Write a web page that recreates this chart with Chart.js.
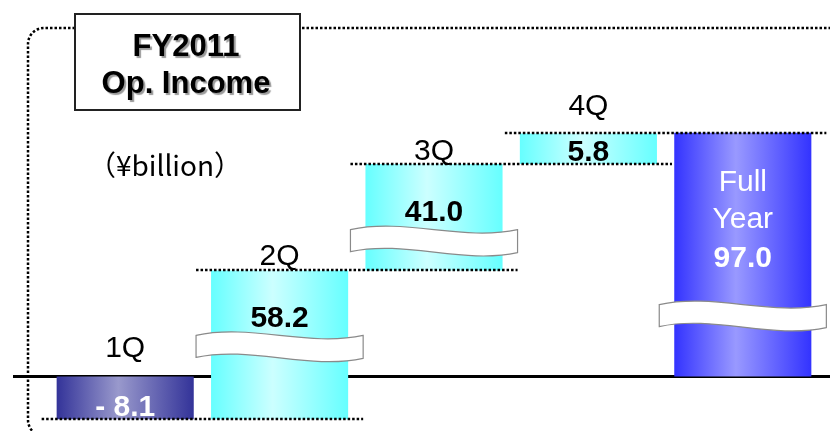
<!DOCTYPE html>
<html>
<head>
<meta charset="utf-8">
<script src="https://cdn.jsdelivr.net/npm/chart.js@4/dist/chart.umd.min.js"></script>
<style>
  body { margin: 0; background: #fff; }
  #wrap { width: 830px; height: 431px; }
</style>
</head>
<body>
<div id="wrap"><canvas id="opChart" width="830" height="431"></canvas></div>
<script>
// Operating income by quarter, yen billion
const quarters = ["1Q", "2Q", "3Q", "4Q"];
const quarterIncome = [-8.1, 58.2, 41.0, 5.8];
const fullYearIncome = 97.0;
const fullYearLines = ["Full", "Year"];

const FONT = '"Liberation Sans", Arial, sans-serif';

// waterfall: each quarter floats on top of the running total
let running = 0;
const ranges = quarterIncome.map(function (v) {
  const r = [running, running + v];
  running += v;
  return r;
});
ranges.push([0, fullYearIncome]);
const labels = [...quarters, "Full Year"];

// linear scale with squeezed value ranges (broken axis look)
class BrokenScale extends Chart.LinearScale {
  toVisual(v) {
    let u = v;
    for (const s of this.options.squeeze || []) {
      if (v > s.from) u -= (Math.min(v, s.to) - s.from) * (1 - s.factor);
    }
    return u;
  }
  getPixelForValue(value) {
    const lo = this.toVisual(this.min);
    const hi = this.toVisual(this.max);
    return this.getPixelForDecimal((this.toVisual(value) - lo) / (hi - lo));
  }
  getValueForPixel(pixel) {
    const lo = this.toVisual(this.min);
    const hi = this.toVisual(this.max);
    const u = lo + this.getDecimalForPixel(pixel) * (hi - lo);
    let a = this.min, b = this.max;
    for (let i = 0; i < 50; i++) {
      const m = (a + b) / 2;
      if (this.toVisual(m) < u) a = m; else b = m;
    }
    return (a + b) / 2;
  }
}
BrokenScale.id = "broken";
BrokenScale.defaults = Chart.LinearScale.defaults;
Chart.register(BrokenScale);

const shades = {
  loss: ["#333399", "#9999cc"],
  gain: ["#66ffff", "#ccffff"],
  total: ["#3333ff", "#9999ff"],
};
const BAR_PCT = 0.888;

function barKind(i) {
  if (i === labels.length - 1) return "total";
  return quarterIncome[i] < 0 ? "loss" : "gain";
}

function barFill(ctx) {
  const chart = ctx.chart;
  const xs = chart.scales.x;
  if (ctx.dataIndex === undefined) return "#66ffff";
  const [edge, mid] = shades[barKind(ctx.dataIndex)];
  if (!xs) return edge;
  const cx = xs.getPixelForValue(ctx.dataIndex);
  const half = (xs.width / labels.length) * BAR_PCT / 2;
  if (!isFinite(cx) || !isFinite(half)) return edge;
  const g = chart.ctx.createLinearGradient(cx - half, 0, cx + half, 0);
  g.addColorStop(0, edge);
  g.addColorStop(0.45, mid);
  g.addColorStop(1, edge);
  return g;
}

function fmt(v) {
  return v < 0 ? "- " + Math.abs(v).toFixed(1) : v.toFixed(1);
}

// where the white break bands sit, as a share of bar height from the bottom
const waveAt = [null, 0.49, 0.28, null, 0.25];
// gap between a quarter label and the top of its bar
const labelGap = [19, 5, 4, 18];

function dottedLine(c, x1, y, x2) {
  c.save();
  c.setLineDash([2.5, 2]);
  c.lineWidth = 2.5;
  c.strokeStyle = "#000";
  c.beginPath();
  c.moveTo(x1, y);
  c.lineTo(x2, y);
  c.stroke();
  c.restore();
}

function wave(c, left, right, cy) {
  const w = right - left;
  const t = cy - 11, b = cy + 11;
  c.save();
  c.beginPath();
  c.moveTo(left, t);
  c.bezierCurveTo(left + w * 0.33, t - 12, left + w * 0.67, t + 12, right, t);
  c.lineTo(right, b + 1);
  c.bezierCurveTo(left + w * 0.67, b + 13, left + w * 0.33, b - 12, left, b);
  c.closePath();
  c.fillStyle = "#fff";
  c.fill();
  c.lineWidth = 1.2;
  c.strokeStyle = "#8a8a8a";
  c.stroke();
  c.restore();
}

const decor = {
  id: "decor",
  beforeDatasetsDraw(chart) {
    const c = chart.ctx;
    const ys = chart.scales.y;
    // dotted rounded frame
    c.save();
    c.setLineDash([2.5, 2]);
    c.lineWidth = 2.5;
    c.strokeStyle = "#000";
    const x0 = 28, y0 = 28, x1 = 840, y1 = 436, r = 16;
    c.beginPath();
    c.moveTo(x1, y0);
    c.lineTo(x0 + r, y0);
    c.arcTo(x0, y0, x0, y0 + r, r);
    c.lineTo(x0, y1 - r);
    c.arcTo(x0, y1, x0 + r, y1, r);
    c.lineTo(x1, y1);
    c.stroke();
    c.restore();
    // zero line
    const y = Math.round(ys.getPixelForValue(0)) + 0.5;
    c.save();
    c.lineWidth = 3;
    c.strokeStyle = "#000";
    c.beginPath();
    c.moveTo(13, y);
    c.lineTo(830, y);
    c.stroke();
    c.restore();
  },
  afterDatasetsDraw(chart) {
    const c = chart.ctx;
    const ys = chart.scales.y;
    const bars = chart.getDatasetMeta(0).data;

    // connectors between consecutive bars
    for (let i = 0; i < quarters.length; i++) {
      const a = bars[i], b = bars[i + 1];
      const y = Math.round(ys.getPixelForValue(ranges[i][1]));
      dottedLine(c, a.x - a.width / 2 - 15, y, b.x + b.width / 2 + 15);
    }

    // break bands
    bars.forEach(function (bar, i) {
      if (waveAt[i] == null) return;
      const top = Math.min(bar.y, bar.base), bottom = Math.max(bar.y, bar.base);
      const cy = bottom - (bottom - top) * waveAt[i];
      wave(c, bar.x - bar.width / 2 - 15, bar.x + bar.width / 2 + 15, cy);
    });

    c.save();
    c.textAlign = "center";
    c.textBaseline = "alphabetic";
    bars.forEach(function (bar, i) {
      const top = Math.min(bar.y, bar.base), bottom = Math.max(bar.y, bar.base);
      const kind = barKind(i);
      const value = i < quarters.length ? quarterIncome[i] : fullYearIncome;
      const txtColor = kind === "gain" ? "#000" : "#fff";
      if (i < quarters.length) {
        c.fillStyle = "#000";
        c.font = "30px " + FONT;
        c.fillText(quarters[i], bar.x, top - labelGap[i]);
      }
      c.fillStyle = txtColor;
      if (kind === "total") {
        c.font = "30px " + FONT;
        fullYearLines.forEach(function (t, k) {
          c.fillText(t, bar.x, top + 58 + k * 37);
        });
        c.font = "bold 30px " + FONT;
        c.fillText(fmt(value), bar.x, top + 58 + fullYearLines.length * 38);
      } else {
        c.font = "bold 30px " + FONT;
        const base = bottom - top > 100 ? top + 57 : bottom - 3;
        c.fillText(fmt(value), bar.x, base);
      }
    });
    c.restore();

    // title box
    c.save();
    c.fillStyle = "#fff";
    c.fillRect(74, 13, 227, 98);
    c.lineWidth = 2;
    c.strokeStyle = "#222";
    c.strokeRect(75, 14, 225, 96);
    c.textAlign = "center";
    c.font = "bold 31px " + FONT;
    c.shadowColor = "rgba(0,0,0,0.4)";
    c.shadowOffsetX = 2;
    c.shadowOffsetY = 2;
    c.shadowBlur = 1;
    c.fillStyle = "#000";
    c.fillText("FY2011", 186, 56);
    c.fillText("Op. Income", 186, 93);
    c.restore();

    // unit
    c.save();
    c.textAlign = "center";
    c.fillStyle = "#000";
    c.font = '28px "Noto Sans CJK JP", sans-serif';
    c.fillText("（¥billion）", 165, 176);
    c.restore();
  },
};

const ctx = document.getElementById("opChart").getContext("2d");

new Chart(ctx, {
  type: "bar",
  data: {
    labels: labels,
    datasets: [
      {
        label: "Op. Income",
        data: ranges,
        backgroundColor: barFill,
        borderWidth: 0,
        barPercentage: BAR_PCT,
        categoryPercentage: 1,
      },
    ],
  },
  options: {
    responsive: false,
    animation: false,
    layout: { padding: { left: 48, right: 10, top: 0, bottom: 0 } },
    plugins: {
      legend: { display: false },
      tooltip: { enabled: false },
    },
    scales: {
      x: { display: false },
      y: {
        type: "broken",
        display: false,
        bounds: "data",
        min: -10.3,
        max: 122.1,
        squeeze: [
          { from: 0, to: 50.1, factor: 0.4 },
          { from: 50.1, to: 91.1, factor: 0.49 },
        ],
      },
    },
  },
  plugins: [decor],
});
</script>
</body>
</html>
